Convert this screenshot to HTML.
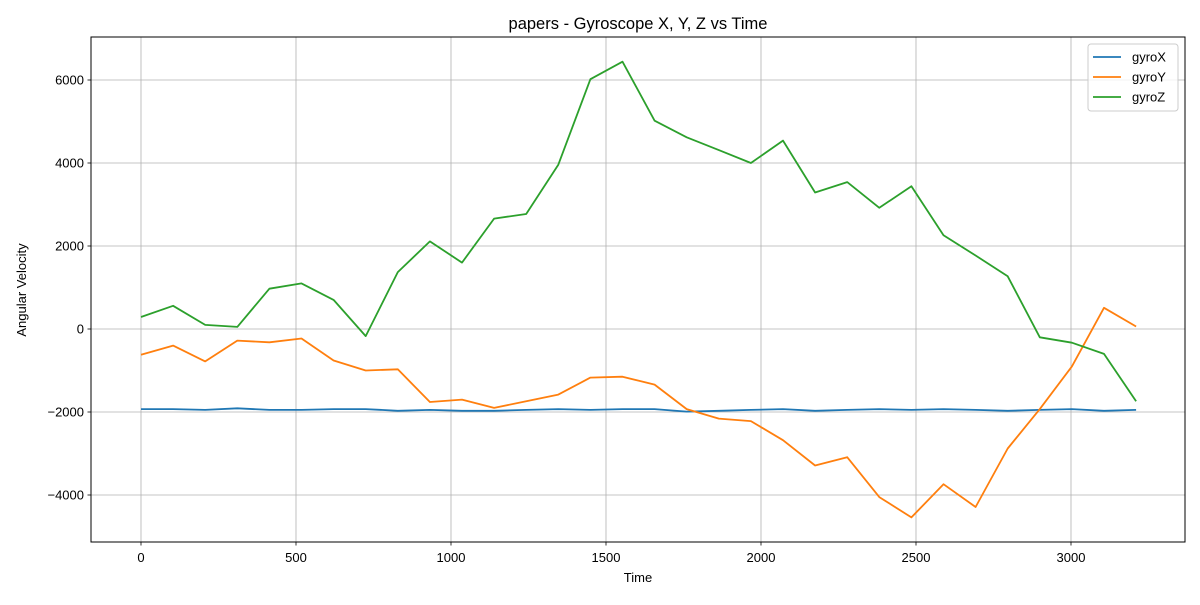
<!DOCTYPE html>
<html><head><meta charset="utf-8"><style>
body{margin:0;background:#fff;font-family:"Liberation Sans","DejaVu Sans",sans-serif;}
svg text{font-family:"Liberation Sans","DejaVu Sans",sans-serif;fill:#000;}
</style></head><body>
<svg id="chart" width="1200" height="600" xmlns="http://www.w3.org/2000/svg"></svg>
<script>
const step = 103.55;
const gyroX = [-1930,-1930,-1950,-1910,-1950,-1950,-1930,-1930,-1970,-1950,-1970,-1970,-1950,-1930,-1950,-1930,-1930,-1990,-1970,-1950,-1930,-1970,-1950,-1930,-1950,-1930,-1950,-1970,-1950,-1930,-1970,-1950];
const gyroY = [-620,-400,-780,-280,-320,-230,-760,-1000,-970,-1760,-1700,-1900,-1740,-1580,-1170,-1150,-1340,-1930,-2160,-2220,-2680,-3290,-3090,-4050,-4540,-3740,-4290,-2880,-1930,-900,510,60];
const gyroZ = [290,560,100,50,970,1100,700,-170,1370,2110,1600,2660,2770,3960,6020,6440,5020,4620,4310,4000,4540,3290,3540,2920,3440,2260,1770,1270,-200,-330,-600,-1740];
const xTicks = [0,500,1000,1500,2000,2500,3000];
const yTicks = [-4000,-2000,0,2000,4000,6000];
const seriesNames = ["gyroX","gyroY","gyroZ"];
const colors = ["#1f77b4","#ff7f0e","#2ca02c"];

const L=91,R=1185,T=37,B=542;
const xs = v => 141 + v*0.31;
const ys = v => 329 - v*0.0415;
const svg = document.getElementById('chart');
const NS='http://www.w3.org/2000/svg';
function mk(tag, attrs, parent){const e=document.createElementNS(NS,tag);for(const k in attrs)e.setAttribute(k,attrs[k]);(parent||svg).appendChild(e);return e;}

// grid + ticks
xTicks.forEach(t=>{
  const x=xs(t);
  const g=mk('line',{x1:x,x2:x,y1:T,y2:B,stroke:'#b0b0b0','stroke-width':0.8});
  
  
  mk('line',{x1:x,x2:x,y1:B,y2:B+3.5,stroke:'#000','stroke-width':0.8});
  const tx=mk('text',{x:x,y:B+20,'text-anchor':'middle','font-size':13});
  tx.textContent=t;
  
  
});
yTicks.forEach(t=>{
  const y=ys(t);
  const g=mk('line',{x1:L,x2:R,y1:y,y2:y,stroke:'#b0b0b0','stroke-width':0.8});
  
  
  mk('line',{x1:L-3.5,x2:L,y1:y,y2:y,stroke:'#000','stroke-width':0.8});
  const tx=mk('text',{x:L-7,y:y+4.5,'text-anchor':'end','font-size':13});
  tx.textContent=t===0?'0':'\u2212'.repeat(t<0?1:0)+Math.abs(t);
  
  
});

// series
[gyroX,gyroY,gyroZ].forEach((arr,si)=>{
  const pts=arr.map((v,i)=>xs(i*step).toFixed(1)+','+ys(v).toFixed(1)).join(' ');
  const p=mk('polyline',{points:pts,fill:'none',stroke:colors[si],'stroke-width':1.8,'stroke-linejoin':'round'});
  
  
});

// frame
const fr=mk('rect',{x:L,y:T,width:R-L,height:B-T,fill:'none',stroke:'#000','stroke-width':1});



// titles
const title=mk('text',{x:638,y:29,'text-anchor':'middle','font-size':16.5});
title.textContent='papers - Gyroscope X, Y, Z vs Time';


const xl=mk('text',{x:638,y:582,'text-anchor':'middle','font-size':13});
xl.textContent='Time';


const yl=mk('text',{x:26,y:290,'text-anchor':'middle','font-size':13,transform:'rotate(-90 26 290)'});
yl.textContent='Angular Velocity';



// legend
const lg=mk('rect',{x:1088,y:44,width:90,height:67,rx:3,fill:'#fff','fill-opacity':0.8,stroke:'#ccc'});


seriesNames.forEach((n,i)=>{
  const y=57+i*20;
  const ln=mk('line',{x1:1093,x2:1121,y1:y,y2:y,stroke:colors[i],'stroke-width':1.8});
  
  
  const t=mk('text',{x:1132,y:y+4.5,'font-size':13});
  t.textContent=n;
  
  
});
</script>
</body></html>
